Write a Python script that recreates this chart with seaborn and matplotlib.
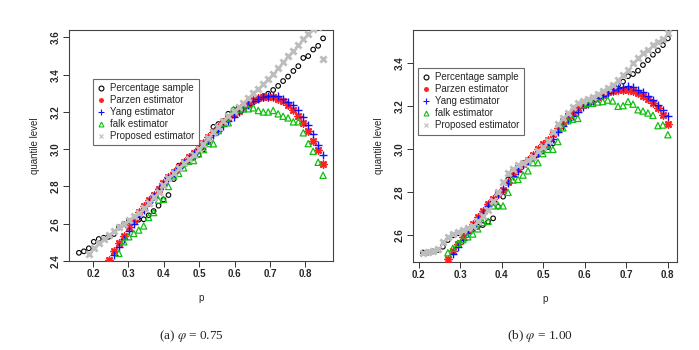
import numpy as np
import pandas as pd
import matplotlib
matplotlib.use("Agg")
import matplotlib.pyplot as plt
import seaborn as sns

# ---------------- data: panel (a) phi = 0.75 ----------------
p_a = [0.160, 0.174, 0.188, 0.202, 0.216, 0.230, 0.244, 0.259, 0.273, 0.287,
       0.301, 0.315, 0.329, 0.343, 0.357, 0.371, 0.385, 0.399, 0.413, 0.428,
       0.442, 0.456, 0.470, 0.484, 0.498, 0.512, 0.526, 0.540, 0.554, 0.568,
       0.582, 0.597, 0.611, 0.625, 0.639, 0.653, 0.667, 0.681, 0.695, 0.709,
       0.723, 0.737, 0.751, 0.766, 0.780, 0.794, 0.808, 0.822, 0.836, 0.850]
pct_a = [2.444, 2.452, 2.468, 2.503, 2.518, 2.525, 2.530, 2.545, 2.580, 2.597,
         2.615, 2.620, 2.622, 2.624, 2.645, 2.668, 2.697, 2.730, 2.754, 2.840,
         2.912, 2.920, 2.940, 2.955, 2.970, 3.000, 3.040, 3.120, 3.135, 3.150,
         3.190, 3.212, 3.222, 3.232, 3.242, 3.252, 3.265, 3.285, 3.298, 3.318,
         3.340, 3.366, 3.390, 3.420, 3.446, 3.490, 3.500, 3.535, 3.555, 3.595]
parzen_a = [None, None, None, None, None, None, 2.405, 2.453, 2.498, 2.533,
            2.580, 2.620, 2.665, 2.695, 2.725, 2.755, 2.785, 2.820, 2.852, 2.880,
            2.905, 2.932, 2.957, 2.980, 3.008, 3.036, 3.064, 3.092, 3.118, 3.145,
            3.170, 3.190, 3.207, 3.225, 3.245, 3.262, 3.274, 3.280, 3.282, 3.278,
            3.268, 3.258, 3.238, 3.210, 3.178, 3.140, 3.097, 3.043, 2.998, 2.920]
yang_a = [None, None, None, None, None, None, None, 2.432, 2.477, 2.520,
          2.560, 2.600, 2.640, 2.675, 2.715, 2.750, 2.785, 2.815, 2.845, 2.875,
          2.900, 2.925, 2.950, 2.975, 3.000, 3.025, 3.050, 3.075, 3.100, 3.125,
          3.150, 3.175, 3.200, 3.220, 3.240, 3.258, 3.272, 3.282, 3.287, 3.287,
          3.285, 3.272, 3.254, 3.236, 3.208, 3.172, 3.132, 3.082, 3.025, 2.970]
falk_a = [None, None, None, None, None, None, None, None, 2.441, 2.503,
          2.530, 2.548, 2.566, 2.588, 2.634, 2.660, 2.727, 2.731, 2.800, 2.857,
          2.870, 2.900, 2.935, 2.939, 2.975, 2.998, 3.030, 3.029, 3.100, 3.140,
          3.142, 3.213, 3.215, 3.217, 3.217, 3.222, 3.208, 3.200, 3.200, 3.208,
          3.190, 3.177, 3.168, 3.147, 3.147, 3.088, 3.030, 2.989, 2.930, 2.860]
prop_a = [None, None, 2.440, 2.468, 2.495, 2.520, 2.540, 2.562, 2.580, 2.600,
          2.620, 2.640, 2.660, 2.683, 2.713, 2.745, 2.770, 2.810, 2.844, 2.874,
          2.898, 2.925, 2.950, 2.970, 3.000, 3.030, 3.060, 3.090, 3.120, 3.150,
          3.180, 3.205, 3.225, 3.250, 3.275, 3.300, 3.325, 3.350, 3.375, 3.405,
          3.435, 3.470, 3.500, 3.527, 3.560, 3.590, 3.620, 3.645, 3.655, 3.487]

# ---------------- data: panel (b) phi = 1.00 ----------------
p_b = [0.210, 0.222, 0.234, 0.246, 0.258, 0.270, 0.282, 0.294, 0.306, 0.318,
       0.330, 0.342, 0.354, 0.367, 0.379, 0.391, 0.403, 0.415, 0.427, 0.439,
       0.451, 0.463, 0.475, 0.487, 0.499, 0.511, 0.523, 0.535, 0.547, 0.559,
       0.571, 0.583, 0.595, 0.607, 0.619, 0.631, 0.643, 0.655, 0.667, 0.680,
       0.692, 0.704, 0.716, 0.728, 0.740, 0.752, 0.764, 0.776, 0.788, 0.800]
pct_b = [2.520, 2.520, 2.525, 2.532, 2.547, 2.578, 2.600, 2.610, 2.615, 2.622,
         2.628, 2.640, 2.648, 2.663, 2.679, 2.733, 2.780, 2.860, 2.900, 2.920,
         2.935, 2.950, 2.960, 2.975, 2.990, 3.010, 3.028, 3.090, 3.135, 3.160,
         3.180, 3.195, 3.210, 3.220, 3.230, 3.240, 3.255, 3.270, 3.285, 3.300,
         3.315, 3.340, 3.350, 3.366, 3.392, 3.415, 3.440, 3.460, 3.485, 3.516]
parzen_b = [None, None, None, None, None, 2.490, 2.525, 2.560, 2.590, 2.625,
            2.655, 2.685, 2.715, 2.745, 2.770, 2.790, 2.810, 2.850, 2.885, 2.910,
            2.930, 2.950, 2.975, 3.000, 3.025, 3.045, 3.070, 3.100, 3.125, 3.145,
            3.170, 3.190, 3.205, 3.220, 3.232, 3.244, 3.255, 3.265, 3.272, 3.276,
            3.278, 3.277, 3.272, 3.262, 3.250, 3.233, 3.214, 3.190, 3.160, 3.120]
yang_b = [None, None, None, None, None, None, 2.515, 2.545, 2.580, 2.610,
          2.645, 2.675, 2.705, 2.735, 2.760, 2.790, 2.815, 2.845, 2.875, 2.900,
          2.925, 2.945, 2.965, 2.985, 3.005, 3.025, 3.050, 3.080, 3.110, 3.135,
          3.155, 3.175, 3.195, 3.210, 3.225, 3.238, 3.250, 3.262, 3.275, 3.285,
          3.292, 3.293, 3.288, 3.277, 3.265, 3.247, 3.228, 3.205, 3.184, 3.155]
falk_b = [None, None, None, None, None, 2.519, 2.540, 2.563, 2.580, 2.593,
          2.606, 2.630, 2.660, 2.665, 2.737, 2.740, 2.737, 2.800, 2.857, 2.860,
          2.880, 2.900, 2.938, 2.938, 2.980, 3.000, 3.000, 3.036, 3.100, 3.133,
          3.140, 3.144, 3.208, 3.214, 3.214, 3.220, 3.222, 3.229, 3.225, 3.200,
          3.203, 3.222, 3.210, 3.184, 3.178, 3.169, 3.158, 3.110, 3.113, 3.068]
prop_b = [2.519, 2.522, 2.525, 2.535, 2.571, 2.590, 2.605, 2.615, 2.625, 2.635,
          2.645, 2.665, 2.690, 2.720, 2.760, 2.800, 2.850, 2.890, 2.910, 2.927,
          2.937, 2.950, 2.966, 2.990, 3.012, 3.040, 3.080, 3.120, 3.145, 3.170,
          3.195, 3.214, 3.225, 3.235, 3.245, 3.258, 3.270, 3.283, 3.300, 3.322,
          3.346, 3.370, 3.400, 3.423, 3.447, 3.462, 3.485, 3.500, 3.515, 3.540]

x_ticks = [0.2, 0.3, 0.4, 0.5, 0.6, 0.7, 0.8]
y_ticks_a = [2.4, 2.6, 2.8, 3.0, 3.2, 3.4, 3.6]
y_ticks_b = [2.6, 2.8, 3.0, 3.2, 3.4]
series_names = ["Percentage sample", "Parzen estimator", "Yang estimator",
                "falk estimator", "Proposed estimator"]
captions = ["(a) $\\varphi$ = 0.75", "(b) $\\varphi$ = 1.00"]

# ---------------- styling ----------------
sns.set_theme(style="white")
plt.rcParams["font.family"] = ["Liberation Sans", "DejaVu Sans"]
plt.rcParams["mathtext.fontset"] = "stix"

styles = {
    "Percentage sample": dict(marker="o", color="black", s=11, lw=0.8, open=True),
    "Parzen estimator": dict(marker=(8, 2, 0), color="#ff2020", s=26, lw=1.1, open=False),
    "Yang estimator": dict(marker="+", color="#1010ff", s=34, lw=1.0, open=False),
    "falk estimator": dict(marker="^", color="#10c010", s=20, lw=0.9, open=True),
    "Proposed estimator": dict(marker="x", color="#bdbdbd", s=20, lw=2.0, open=False),
}

fig = plt.figure(figsize=(6.99, 3.5), dpi=100)
ax_a = fig.add_axes([69 / 699, 1 - 261 / 350, 264 / 699, 231 / 350])
ax_b = fig.add_axes([413 / 699, 1 - 262 / 350, 264 / 699, 232 / 350])

panels = [
    (ax_a, p_a, [pct_a, parzen_a, yang_a, falk_a, prop_a], (0.132, 0.878), (2.40, 3.64),
     y_ticks_a, (0.091, 0.788)),
    (ax_b, p_b, [pct_b, parzen_b, yang_b, falk_b, prop_b], (0.186, 0.822), (2.476, 3.555),
     y_ticks_b, (0.019, 0.836)),
]

for i, (ax, pv, ser, xl, yl, yt, lpos) in enumerate(panels):
    frames = []
    for name, vals in zip(series_names, ser):
        frames.append(pd.DataFrame({"p": pv, "q": vals, "series": name}))
    df = pd.concat(frames, ignore_index=True).dropna()
    handles = []
    for name in series_names:
        st = styles[name]
        sub = df[df["series"] == name]
        sns.scatterplot(data=sub, x="p", y="q", ax=ax, marker=st["marker"],
                        color=st["color"], s=st["s"], linewidth=st["lw"],
                        label=name, legend=False, zorder=3)
        coll = ax.collections[-1]
        if st["open"]:
            coll.set_facecolor("none")
        coll.set_edgecolor(st["color"])
        coll.set_linewidth(st["lw"])
        coll.set_clip_on(True)
        h = plt.Line2D([], [], linestyle="none", marker=st["marker"],
                       markersize=3.5 if name != "Yang estimator" else 5,
                       markeredgewidth=0.8,
                       markeredgecolor=st["color"],
                       markerfacecolor="none" if st["open"] else st["color"])
        handles.append(h)

    ax.set_xlim(*xl)
    ax.set_ylim(*yl)
    ax.set_xticks(x_ticks)
    ax.set_xticklabels([f"{v:.1f}" for v in x_ticks], fontsize=7, fontweight="bold")
    ax.set_yticks(yt)
    ax.set_yticklabels([f"{v:.1f}" for v in yt], fontsize=7, fontweight="bold",
                       rotation=90, va="center")
    ax.tick_params(axis="both", which="both", direction="out", length=4, width=0.7,
                   color="#333333", pad=2, left=True, bottom=True)
    for sp in ax.spines.values():
        sp.set_visible(True)
        sp.set_color("#444444")
        sp.set_linewidth(0.8)
    ax.set_xlabel("p", fontsize=7, labelpad=10)
    ax.set_ylabel("quantile level", fontsize=7, labelpad=8)

    leg = ax.legend(handles=handles, labels=series_names, loc="upper left",
                    bbox_to_anchor=lpos, frameon=True, fancybox=False,
                    handlelength=0.8, handletextpad=0.5,
                    borderpad=0.45, labelspacing=0.2, borderaxespad=0.0,
                    prop={"size": 7})
    leg.get_frame().set_edgecolor("#444444")
    leg.get_frame().set_linewidth(0.8)
    leg.set_zorder(5)

fig.text(191 / 699, 1 - 336 / 350, captions[0], ha="center", va="center",
         fontsize=9.5, family=["Liberation Serif", "DejaVu Serif"])
fig.text(540 / 699, 1 - 336 / 350, captions[1], ha="center", va="center",
         fontsize=9.5, family=["Liberation Serif", "DejaVu Serif"])

fig.savefig("out.png", dpi=100, facecolor="white")
